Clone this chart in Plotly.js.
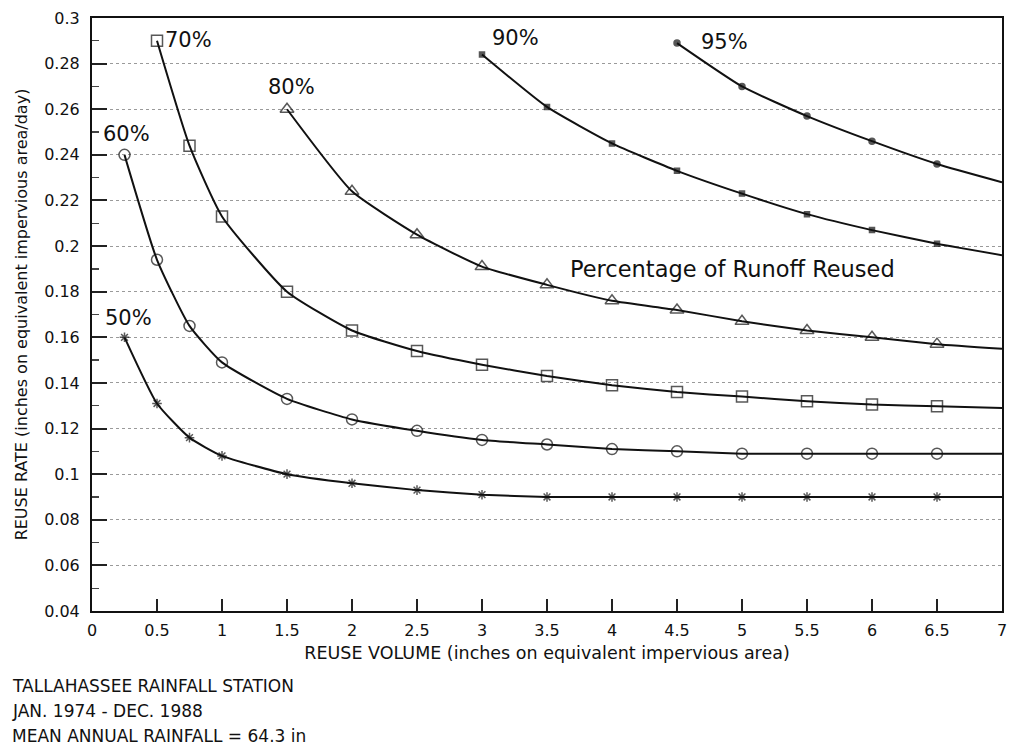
<!DOCTYPE html>
<html>
<head>
<meta charset="utf-8">
<script src="https://cdn.plot.ly/plotly-3.0.1.min.js"></script>
<style>html,body{margin:0;padding:0;background:#fff;}#chart{width:1011px;height:746px;}</style>
</head>
<body>
<div id="chart"></div>
<script>
// Reuse volume (x) and reuse rate (y) per percentage of runoff reused
const x50 = [0.25, 0.5, 0.75, 1.0, 1.5, 2.0, 2.5, 3.0, 3.5, 4.0, 4.5, 5.0, 5.5, 6.0, 6.5, 7.0];
const y50 = [0.160, 0.131, 0.116, 0.108, 0.100, 0.096, 0.093, 0.091, 0.090, 0.090, 0.090, 0.090, 0.090, 0.090, 0.090, 0.090];

const x60 = [0.25, 0.5, 0.75, 1.0, 1.5, 2.0, 2.5, 3.0, 3.5, 4.0, 4.5, 5.0, 5.5, 6.0, 6.5, 7.0];
const y60 = [0.240, 0.194, 0.165, 0.149, 0.133, 0.124, 0.119, 0.115, 0.113, 0.111, 0.110, 0.109, 0.109, 0.109, 0.109, 0.109];

const x70 = [0.5, 0.75, 1.0, 1.5, 2.0, 2.5, 3.0, 3.5, 4.0, 4.5, 5.0, 5.5, 6.0, 6.5, 7.0];
const y70 = [0.290, 0.244, 0.213, 0.180, 0.163, 0.154, 0.148, 0.143, 0.139, 0.136, 0.134, 0.132, 0.1305, 0.1298, 0.129];

const x80 = [1.5, 2.0, 2.5, 3.0, 3.5, 4.0, 4.5, 5.0, 5.5, 6.0, 6.5, 7.0];
const y80 = [0.260, 0.224, 0.205, 0.191, 0.183, 0.176, 0.172, 0.167, 0.163, 0.160, 0.157, 0.155];

const x90 = [3.0, 3.5, 4.0, 4.5, 5.0, 5.5, 6.0, 6.5, 7.0];
const y90 = [0.284, 0.261, 0.245, 0.233, 0.223, 0.214, 0.207, 0.201, 0.196];

const x95 = [4.5, 5.0, 5.5, 6.0, 6.5, 7.0];
const y95 = [0.289, 0.270, 0.257, 0.246, 0.236, 0.228];

const seriesLabels = ["50%", "60%", "70%", "80%", "90%", "95%"];
const xTicks = [0, 0.5, 1, 1.5, 2, 2.5, 3, 3.5, 4, 4.5, 5, 5.5, 6, 6.5, 7];
const yTicks = [0.04, 0.06, 0.08, 0.1, 0.12, 0.14, 0.16, 0.18, 0.2, 0.22, 0.24, 0.26, 0.28, 0.3];

const noteLines = ["TALLAHASSEE RAINFALL STATION", "JAN. 1974 - DEC. 1988", "MEAN ANNUAL RAINFALL = 64.3 in"];

const FONT = 'DejaVu Sans, Verdana, sans-serif';

function sizes(n, s) { const a = []; for (let i = 0; i < n; i++) a.push(i === n - 1 ? 0 : s); return a; }

const styles = [
  {sym: 'asterisk-open', size: 8},
  {sym: 'circle-open', size: 11},
  {sym: 'square-open', size: 11},
  {sym: 'triangle-up-open', size: 12},
  {sym: 'square', size: 5},
  {sym: 'circle', size: 6}
];
const xs = [x50, x60, x70, x80, x90, x95];
const ys = [y50, y60, y70, y80, y90, y95];

const traces = xs.map((x, i) => ({
  x: x, y: ys[i], name: seriesLabels[i], type: 'scatter', mode: 'lines+markers',
  line: {color: '#111', width: 2, shape: 'spline', smoothing: 0.5},
  marker: {symbol: styles[i].sym, size: sizes(x.length, styles[i].size), color: '#111', line: {color: '#111', width: 1.5}},
  showlegend: false, cliponaxis: false
}));

const lblFont = {family: FONT, size: 21, color: '#111'};
const annotations = [
  {x: x50[0], y: y50[0], text: seriesLabels[0], xanchor: 'center', yanchor: 'bottom', showarrow: false, xshift: 4, yshift: 5, font: lblFont},
  {x: x60[0], y: y60[0], text: seriesLabels[1], xanchor: 'center', yanchor: 'bottom', showarrow: false, xshift: 2, yshift: 7, font: lblFont},
  {x: x70[0], y: y70[0], text: seriesLabels[2], xanchor: 'left', yanchor: 'middle', showarrow: false, xshift: 6, yshift: 1, font: lblFont},
  {x: x80[0], y: y80[0], text: seriesLabels[3], xanchor: 'center', yanchor: 'bottom', showarrow: false, xshift: 4, yshift: 8, font: lblFont},
  {x: x90[0], y: y90[0], text: seriesLabels[4], xanchor: 'left', yanchor: 'middle', showarrow: false, xshift: 8, yshift: 16, font: lblFont},
  {x: x95[0], y: y95[0], text: seriesLabels[5], xanchor: 'left', yanchor: 'middle', showarrow: false, xshift: 22, yshift: 1, font: lblFont},
  {x: 4.93, y: 0.190, text: 'Percentage of Runoff Reused', xanchor: 'center', yanchor: 'middle', showarrow: false, font: {family: FONT, size: 22.5, color: '#111'}}
];
noteLines.forEach((t, i) => annotations.push({
  xref: 'paper', yref: 'paper', x: -0.09, y: -0.126 - i * 0.0425, xanchor: 'left', yanchor: 'middle',
  text: t, showarrow: false, font: {family: FONT, size: 17, color: '#111'}
}));

const layout = {
  width: 1011, height: 746,
  margin: {l: 92, r: 9, t: 18, b: 135},
  paper_bgcolor: '#fff', plot_bgcolor: '#fff',
  font: {family: FONT, color: '#111'},
  xaxis: {
    range: [0, 7], tickvals: xTicks, ticktext: xTicks.map(String),
    ticks: 'inside', ticklen: 12, tickwidth: 1.4, tickcolor: '#222',
    showline: true, linecolor: '#111', linewidth: 2, mirror: true,
    showgrid: false, zeroline: false, ticklabelstandoff: 4,
    tickfont: {family: FONT, size: 16, color: '#111'},
    title: {text: 'REUSE VOLUME (inches on equivalent impervious area)', font: {family: FONT, size: 17.5, color: '#111'}, standoff: 8}
  },
  yaxis: {
    range: [0.04, 0.3], tickvals: yTicks, ticktext: yTicks.map(v => String(+v.toFixed(2))),
    ticks: 'inside', ticklen: 15, tickwidth: 2, tickcolor: '#222',
    minor: {dtick: 0.01, tick0: 0.04, ticks: 'inside', ticklen: 7, tickwidth: 1.3, tickcolor: '#444', showgrid: false},
    showline: true, linecolor: '#111', linewidth: 2, mirror: true,
    showgrid: true, gridcolor: '#9a9a9a', gridwidth: 1, griddash: 'dot', zeroline: false,
    ticklabelstandoff: 7,
    tickfont: {family: FONT, size: 16, color: '#111'},
    title: {text: 'REUSE RATE (inches on equivalent impervious area/day)', font: {family: FONT, size: 16, color: '#111'}, standoff: 13}
  },
  annotations: annotations
};

Plotly.newPlot('chart', traces, layout, {staticPlot: true, displayModeBar: false});
</script>
</body>
</html>
